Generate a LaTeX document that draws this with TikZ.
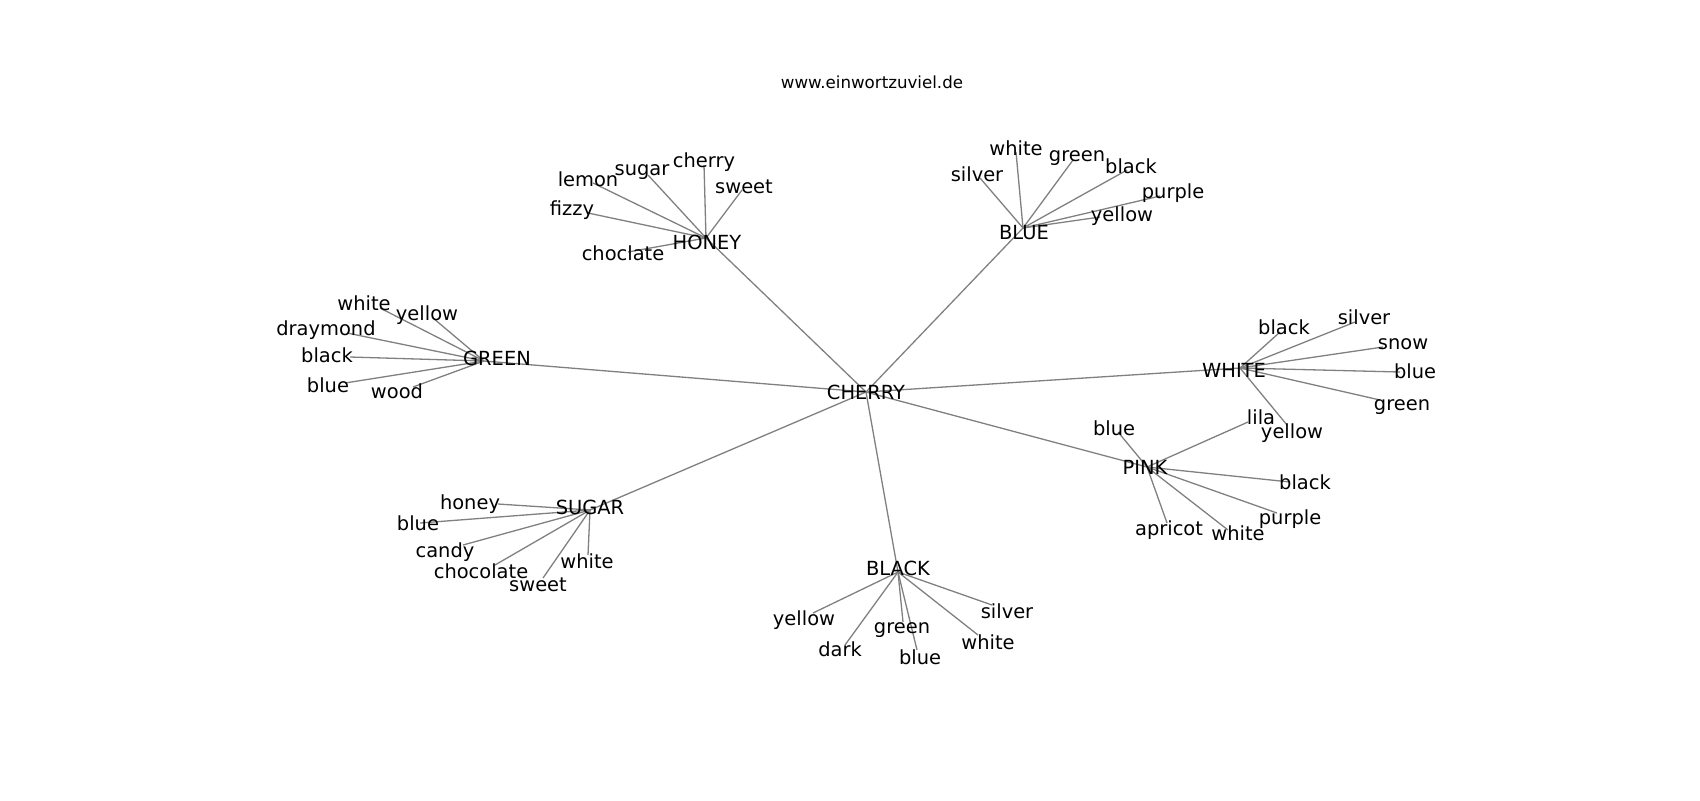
\documentclass[tikz,border=0pt]{standalone}
\usepackage{fontspec}
\setmainfont{DejaVu Sans}
\usetikzlibrary{positioning}
\pgfdeclarelayer{bg}
\pgfsetlayers{bg,main}
\tikzstyle{word} = [inner sep=0, text height=0.73em, text depth=0pt, font=\fontsize{9.72}{11}\selectfont]
\tikzstyle{title} = [inner sep=0, font=\fontsize{8.33}{10}\selectfont]
\tikzstyle{edge} = [draw=black!50, line width=0.65pt]

\begin{document}
\begin{tikzpicture}[x=0.5pt, y=-0.5pt]
  \useasboundingbox (0,0) rectangle (1700,800);
  \node [title] (site) at (872,82) {www.einwortzuviel.de};

  % centre and hubs
  \node [word] (cherry) at (866,392) {CHERRY};
  \node [word] (honey) at (707,242) {HONEY};
  \node [word] (blue) at (1024,232) {BLUE};
  \node [word] (green) at (497,358) {GREEN};
  \node [word] (white) at (1234,370) {WHITE};
  \node [word] (pink) at (1145,467) {PINK};
  \node [word] (sugar) at (590,507) {SUGAR};
  \node [word] (black) at (898,568) {BLACK};
  \coordinate (honey-v) at (706,238);
  \coordinate (blue-v) at (1023,228);
  \coordinate (green-v) at (484,361);
  \coordinate (white-v) at (1240,368);
  \coordinate (pink-v) at (1147,467);
  \coordinate (sugar-v) at (590,510);
  \coordinate (black-v) at (898,572);

  \begin{pgfonlayer}{bg}
    \foreach \h in {honey,blue,green,white,pink,sugar,black}
      \draw [edge] (cherry.center) -- (\h-v);
  \end{pgfonlayer}

  % leaves: word / text x / text y / end x / end y
  \foreach \h/\list in {
    honey/{choclate/623/253/628/252, fizzy/572/208/588/213, lemon/588/179/593/183,
           sugar/642/168/648/175, cherry/704/160/704/165, sweet/744/186/742/190},
    blue/{silver/977/174/980/178, white/1016/148/1016/152, green/1077/154/1073/160,
          black/1131/166/1127/170, purple/1173/191/1160/196, yellow/1122/214/1100/217},
    green/{white/364/303/380/308, yellow/427/313/433/318, draymond/326/328/347/333,
           black/327/355/350/357, blue/328/385/345/383, wood/397/391/413/387},
    white/{black/1284/327/1280/332, silver/1364/317/1355/322, snow/1403/342/1383/347,
           blue/1415/371/1400/372, green/1402/403/1380/400, yellow/1292/431/1287/425},
    pink/{blue/1114/428/1118/432, lila/1261/417/1248/422, black/1305/482/1290/482,
          purple/1290/517/1277/513, white/1238/533/1228/530, apricot/1169/528/1167/523},
    sugar/{honey/470/502/498/504, blue/418/523/420/523, candy/445/550/463/545,
           chocolate/481/571/495/565, sweet/538/584/543/578, white/587/561/588/555},
    black/{yellow/804/618/813/613, dark/840/649/845/645, green/902/626/903/622,
           blue/920/657/917/650, white/988/642/978/635, silver/1007/611/992/605}}
  {
    \foreach \w/\tx/\ty/\vx/\vy in \list {
      \node [word] (\h-\w) at (\tx,\ty) {\w};
      \coordinate (\h-\w-v) at (\vx,\vy);
      \begin{pgfonlayer}{bg}
        \draw [edge] (\h-v) -- (\h-\w-v);
      \end{pgfonlayer}
    }
  }
\end{tikzpicture}
\end{document}
